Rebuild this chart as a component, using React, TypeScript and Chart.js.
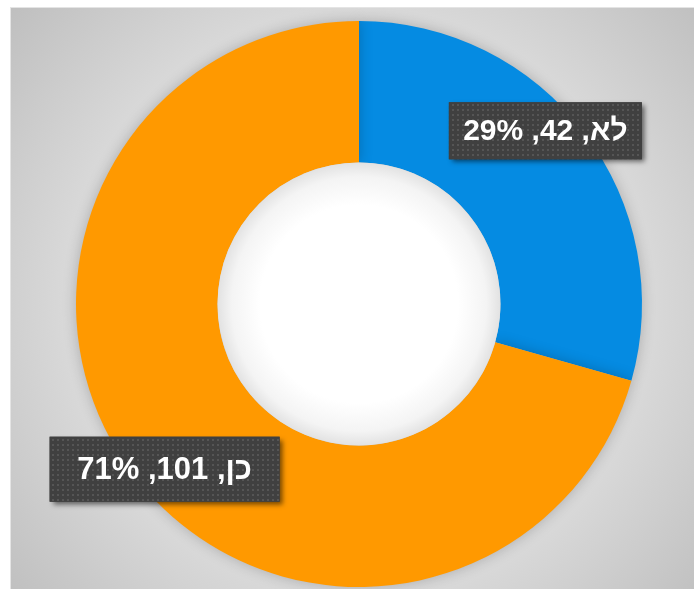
import React, { useEffect, useRef } from 'react';
import { Chart, registerables } from 'chart.js';

Chart.register(...registerables);

const categories: string[] = ['לא', 'כן'];
const values: number[] = [42, 101];
const sliceColors: string[] = ['#058BE2', '#FF9900'];

const CANVAS_W = 683;
const CANVAS_H = 581;

const boxStyles = [
  { w: 193, h: 57, font: 30 },
  { w: 230, h: 65, font: 31 },
];

function makePattern(ctx: CanvasRenderingContext2D) {
  const c = document.createElement('canvas');
  c.width = 5;
  c.height = 5;
  const p = c.getContext('2d')!;
  p.fillStyle = '#404040';
  p.fillRect(0, 0, 5, 5);
  p.fillStyle = '#555555';
  p.fillRect(1, 1, 2, 2);
  return ctx.createPattern(c, 'repeat');
}

const backgroundPlugin = {
  id: 'bgGradient',
  beforeDraw(chart: any) {
    const { ctx, width, height } = chart;
    const meta = chart.getDatasetMeta(0);
    const arc = meta.data[0];
    const cx = arc ? arc.x : width / 2;
    const cy = arc ? arc.y : height / 2;
    const R = Math.hypot(Math.max(cx, width - cx), Math.max(cy, height - cy));
    ctx.save();
    const g = ctx.createRadialGradient(cx, cy, 0, cx, cy, R);
    g.addColorStop(0, '#e2e2e2');
    g.addColorStop(0.62, '#dadada');
    g.addColorStop(1, '#bfbfbf');
    ctx.fillStyle = g;
    ctx.fillRect(0, 0, width, height);
    ctx.restore();
  },
  beforeDatasetsDraw(chart: any) {
    const ctx = chart.ctx;
    ctx.save();
    ctx.shadowColor = 'rgba(0,0,0,0.22)';
    ctx.shadowBlur = 14;
  },
  afterDatasetsDraw(chart: any) {
    const ctx = chart.ctx;
    ctx.restore();
    const meta = chart.getDatasetMeta(0);
    const arc = meta.data[0];
    if (!arc) return;
    const { x, y, innerRadius } = arc.getProps(['x', 'y', 'innerRadius'], true);
    ctx.save();
    const g = ctx.createRadialGradient(x, y, 0, x, y, innerRadius);
    g.addColorStop(0, '#ffffff');
    g.addColorStop(0.7, '#ffffff');
    g.addColorStop(0.9, '#f4f4f4');
    g.addColorStop(1, '#e2e2e2');
    ctx.beginPath();
    ctx.arc(x, y, innerRadius, 0, Math.PI * 2);
    ctx.fillStyle = g;
    ctx.fill();
    ctx.restore();
  },
};

const labelPlugin = {
  id: 'boxLabels',
  afterDraw(chart: any) {
    const ctx: CanvasRenderingContext2D = chart.ctx;
    const meta = chart.getDatasetMeta(0);
    const data: number[] = chart.data.datasets[0].data;
    const total = data.reduce((a, b) => a + b, 0);
    const pattern = makePattern(ctx);
    meta.data.forEach((arc: any, i: number) => {
      const { x, y, startAngle, endAngle, outerRadius } = arc.getProps(
        ['x', 'y', 'startAngle', 'endAngle', 'outerRadius'],
        true
      );
      const mid = (startAngle + endAngle) / 2 - (4.5 * Math.PI) / 180;
      const r = outerRadius * 0.9;
      const cx = x + Math.cos(mid) * r - 4;
      const cy = y + Math.sin(mid) * r - 4;
      const pct = Math.round((data[i] / total) * 100);
      const text = `${chart.data.labels[i]}, ${data[i]}, ${pct}%`;
      const st = boxStyles[i] || boxStyles[0];
      ctx.save();
      ctx.shadowColor = 'rgba(0,0,0,0.55)';
      ctx.shadowBlur = 5;
      ctx.shadowOffsetX = 3;
      ctx.shadowOffsetY = 3;
      ctx.fillStyle = '#404040';
      ctx.fillRect(cx - st.w / 2, cy - st.h / 2, st.w, st.h);
      ctx.restore();
      ctx.save();
      if (pattern) {
        ctx.fillStyle = pattern;
        ctx.fillRect(cx - st.w / 2, cy - st.h / 2, st.w, st.h);
      }
      ctx.fillStyle = '#ffffff';
      ctx.font = `bold ${st.font}px "Liberation Sans", Arial, sans-serif`;
      (ctx as any).direction = 'rtl';
      ctx.textAlign = 'center';
      ctx.textBaseline = 'middle';
      ctx.fillText(text, cx, cy + 1);
      ctx.restore();
    });
  },
};

export default function App() {
  const ref = useRef<HTMLCanvasElement | null>(null);
  useEffect(() => {
    if (!ref.current) return;
    const chart = new Chart(ref.current, {
      type: 'doughnut',
      data: {
        labels: categories,
        datasets: [
          {
            data: values,
            backgroundColor: sliceColors,
            borderWidth: 0,
            hoverOffset: 0,
          },
        ],
      },
      options: {
        responsive: false,
        animation: false,
        cutout: '50%',
        layout: { padding: { left: 13, right: 0, top: 13, bottom: 2 } },
        plugins: {
          legend: { display: false },
          tooltip: { enabled: false },
        },
      },
      plugins: [backgroundPlugin, labelPlugin],
    });
    return () => chart.destroy();
  }, []);
  return (
    <div
      style={{
        position: 'fixed',
        left: 10,
        top: 7,
        borderTop: '1px solid #e4e4e4',
        borderLeft: '1px solid #e4e4e4',
        width: CANVAS_W,
        height: CANVAS_H,
        overflow: 'hidden',
      }}
    >
      <canvas ref={ref} width={CANVAS_W} height={CANVAS_H} style={{ display: 'block' }} />
    </div>
  );
}
